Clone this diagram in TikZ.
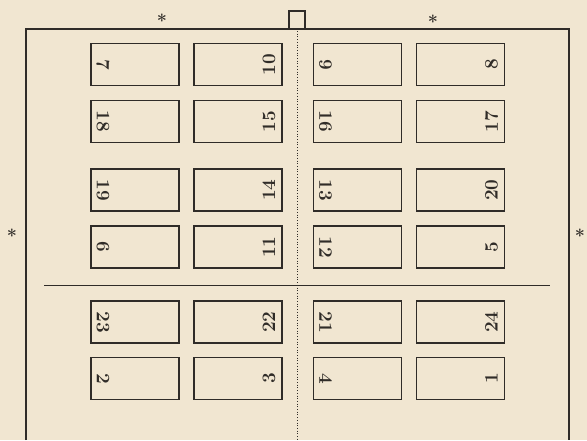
\documentclass[tikz,border=0pt]{standalone}
\usetikzlibrary{positioning}
\definecolor{paper}{RGB}{241,230,209}
\definecolor{ink}{RGB}{48,44,40}
\tikzset{
  page/.style={draw=ink, line width=1.9pt, minimum width=88pt, minimum height=42pt, inner sep=0pt},
  folio/.style={text=ink, font=\fontsize{19}{19}\selectfont\bfseries, inner sep=0pt},
  star/.style={text=ink, font=\fontsize{18}{18}\selectfont\bfseries, inner sep=0pt}
}
\begin{document}
\begin{tikzpicture}[x=1pt, y=-1pt]
        % Paper and fixed size of the sheet
        \fill[paper] (0,0) rectangle (587,440);
        \useasboundingbox (0,0) rectangle (587,440);

        % Outer edge of the sheet, open at the bottom
        \coordinate (bl) at (26,440);
        \coordinate (tl) at (26,29);
        \coordinate (tr) at (569,29);
        \coordinate (br) at (569,440);
        \draw[ink, line width=2.1pt] (bl) -- (tl) -- (tr) -- (br);

        % Small square mark on the top edge
        \coordinate (ml) at (289,29);
        \coordinate (mr) at (305,29);
        \draw[ink, line width=2pt] (ml) -- ++(0,-18) -| (mr);

        % Dotted fold and solid cut
        \coordinate (ft) at (297,31);
        \coordinate (fb) at (297,440);
        \draw[ink, dotted, line width=0.7pt] (ft) -- (fb);
        \coordinate (cl) at (44,285);
        \coordinate (cr) at (550,285);
        \draw[ink, line width=1pt] (cl) -- (cr);

        % Star marks round the sheet
        \node[star] (startl) at (162,21) {*};
        \node[star] (startr) at (433,22) {*};
        \node[star] (starl) at (12,236) {*};
        \node[star] (starr) at (580,236) {*};

        % Pages: number/column/row
        \foreach \n/\col/\row in {7/1/1, 10/2/1, 9/3/1, 8/4/1,
                                  18/1/2, 15/2/2, 16/3/2, 17/4/2,
                                  19/1/3, 14/2/3, 13/3/3, 20/4/3,
                                  6/1/4, 11/2/4, 12/3/4, 5/4/4,
                                  23/1/5, 22/2/5, 21/3/5, 24/4/5,
                                  2/1/6, 3/2/6, 4/3/6, 1/4/6} {
            % Centre of the page
            \pgfmathsetmacro{\xc}{{135,238,357.5,460.5}[\col-1]}
            \pgfmathsetmacro{\yc}{{64.5,121.5,190,247,322,378.5}[\row-1]}

            % Draw the page frame
            \node[page] (p\n) at (\xc,\yc) {};

            % Folio, turned towards the inside of the page
            \ifodd\col
              \node[folio, rotate=-90] (f\n) at ([xshift=13pt]p\n.west) {\n};
            \else
              \node[folio, rotate=90] (f\n) at ([xshift=-14pt]p\n.east) {\n};
            \fi
          }
\end{tikzpicture}
\end{document}
